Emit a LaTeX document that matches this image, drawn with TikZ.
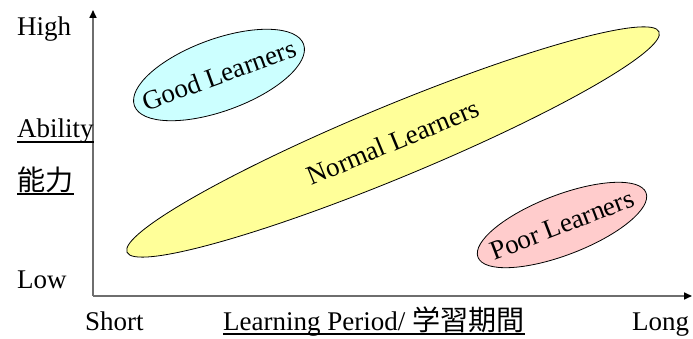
\documentclass[tikz,border=0pt]{standalone}
\usepackage{fontspec}
\setmainfont{Liberation Serif}
\newfontfamily\jpfont[Scale=1.04]{Noto Sans CJK JP}
\usetikzlibrary{shapes, arrows.meta, positioning}
\definecolor{GoodCyan}{RGB}{204,255,255}
\definecolor{NormYellow}{RGB}{255,255,153}
\definecolor{PoorPink}{RGB}{255,204,204}
\definecolor{AxisGray}{RGB}{110,110,110}

\begin{document}
\begin{tikzpicture}[x=1pt, y=1pt]
      \tikzset{ lbl/.style ={inner sep=0pt, font=\fontsize{27}{30}\selectfont} }
      \tikzset{ grp/.style ={draw=black, ellipse, inner sep=0pt, line width=0.8pt, font=\fontsize{27}{30}\selectfont} }
      \tikzset{ axis/.style={draw=AxisGray, line width=1.6pt, -{Triangle[black, length=8pt, width=7pt]}} }
      \tikzset{ uln/.style ={line width=1.6pt} }

      \useasboundingbox (0,0) rectangle (693,339);

      % axes
      \coordinate (o)    at (93,43);
      \coordinate (ytop) at (93,329);
      \coordinate (xend) at (692,43);
      \draw[axis] (o) -- (ytop);
      \draw[axis] (o) -- (xend);

      % ability labels
      \node[lbl, anchor=base west] (high) at (17,303) {High};
      \node[lbl, anchor=base west] (abil) at (17,201) {Ability};
      \node[lbl, anchor=base west] (nory) at (17,148) {\jpfont 能力};
      \node[lbl, anchor=base west] (low)  at (17,50)  {Low};

      % period labels
      \node[lbl, anchor=base west] (short)  at (85,8)  {Short};
      \node[lbl, anchor=base west] (period) at (223,8) {Learning Period/ {\jpfont 学習期間}};
      \node[lbl, anchor=base west] (long)   at (632,8) {Long};

      \draw[uln] ([yshift=-4pt]abil.base west)   -- ([yshift=-4pt]abil.base east);
      \draw[uln] ([yshift=-3pt]nory.base west)   -- ([yshift=-3pt]nory.base east);
      \draw[uln] ([yshift=-3pt]period.base west) -- ([yshift=-3pt]period.base east);

      % learner groups
      \node[grp, fill=NormYellow, rotate=22.5, minimum width=576pt, minimum height=72pt] (norm) at (393,197) {\makebox[0pt]{Normal Learners}};
      \node[grp, fill=GoodCyan,   rotate=20,   minimum width=180pt, minimum height=72pt] (good) at (219,264) {\makebox[0pt]{Good Learners}};
      \node[grp, fill=PoorPink,   rotate=21,   minimum width=180pt, minimum height=60pt] (poor) at (562,114) {\makebox[0pt]{Poor Learners}};
\end{tikzpicture}
\end{document}
